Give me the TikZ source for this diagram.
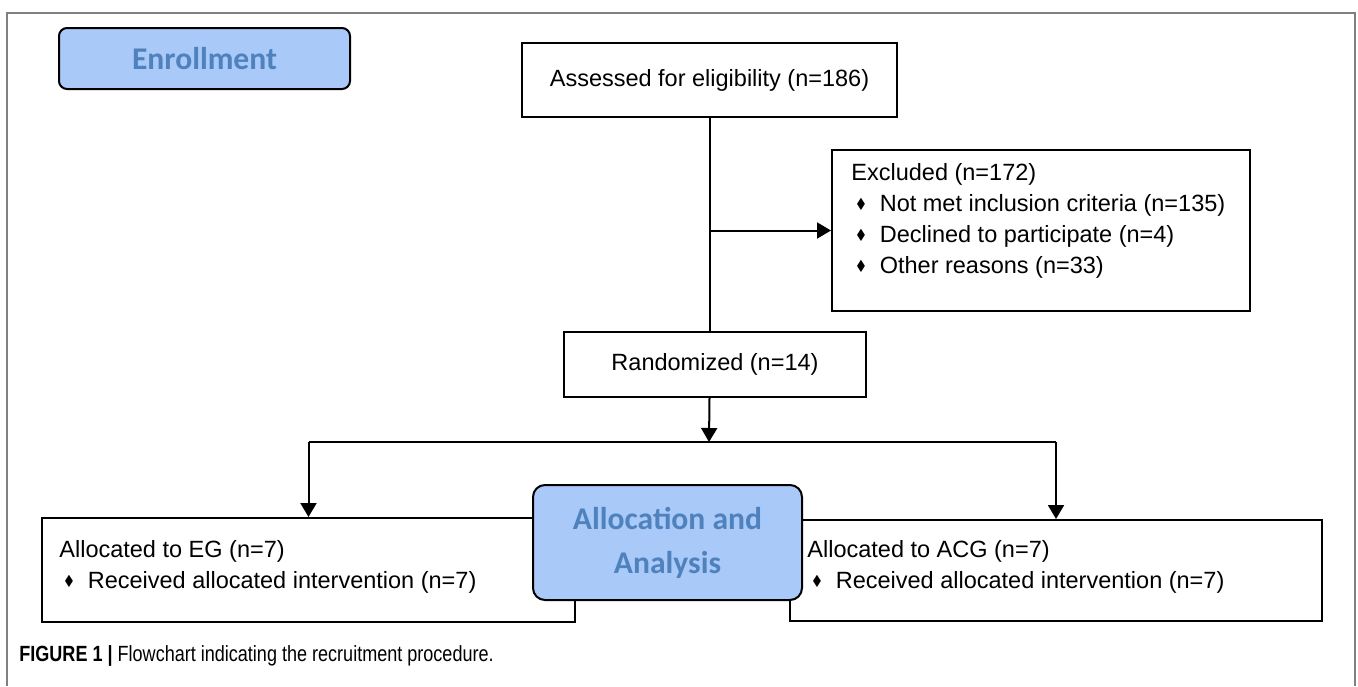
\documentclass[tikz,border=0pt]{standalone}
\usepackage{amssymb}
\usepackage{fontspec}
\setmainfont{Liberation Sans}
\newfontfamily\headfont{Carlito}
\newfontfamily\capfont{Liberation Sans}[FakeStretch=0.82]
\usetikzlibrary{positioning,arrows.meta}
\definecolor{headblue}{HTML}{4F81BD}
\definecolor{headfill}{HTML}{A9C9F9}
\newcommand{\bul}{\hspace*{2.5pt}\raisebox{.25ex}{\scalebox{.6}{$\blacklozenge$}}\hspace{7pt}}

\begin{document}
\begin{tikzpicture}[x=.5pt,y=-.5pt,
    box/.style={draw, line width=1pt, inner sep=0pt},
    head/.style={box, rounded corners=4pt, fill=headfill, text=headblue, align=center,
        font=\headfont\bfseries\fontsize{15.8}{22}\selectfont},
    txt/.style={inner sep=0pt, align=left, font=\fontsize{11.75}{15.5}\selectfont},
    link/.style={line width=1pt},
    arr/.style={link, -{Triangle[width=8pt,length=7pt]}}]
    \useasboundingbox (0,0) rectangle (1358,686);
    \draw[gray, line width=1pt] (7,686) -- (7,13) -- (1355,13) -- (1355,686);

    \node[head, minimum width=145.5pt, minimum height=30.5pt] (enroll) at (204.5,58.5) {Enrollment};
    \node[box, txt, minimum width=187.5pt, minimum height=37pt] (assess) at (709.5,80) {Assessed for eligibility (n=186)};
    \node[box, minimum width=209pt, minimum height=80.5pt] (excl) at (1041,230.5) {};
    \node[txt, anchor=north west] (excltext) at ([xshift=10pt,yshift=-7pt]excl.north west)
        {Excluded (n=172)\\ \bul Not met inclusion criteria (n=135)\\ \bul Declined to participate (n=4)\\ \bul Other reasons (n=33)};
    \node[box, txt, minimum width=151pt, minimum height=32.5pt] (rand) at (715,364.5) {Randomized (n=14)};
    \node[box, minimum width=266.5pt, minimum height=52pt] (eg) at (308.5,570) {};
    \node[txt, anchor=north west] (egtext) at ([xshift=9pt,yshift=-11.5pt]eg.north west)
        {Allocated to EG (n=7)\\ \bul Received allocated intervention (n=7)};
    \node[box, minimum width=266pt, minimum height=50.5pt] (acg) at (1056,570.5) {};
    \node[txt, anchor=north west] (acgtext) at ([xshift=9pt,yshift=-10.5pt]acg.north west)
        {Allocated to ACG (n=7)\\ \bul Received allocated intervention (n=7)};

    \coordinate (split) at (709,442);
    \draw[link] (assess.south) -- (assess.south |- rand.north);
    \draw[arr] (assess.south |- excl.west) -- (excl.west);
    \draw[arr] (rand.south -| assess.south) -- (split);
    \draw[link] (eg.north |- split) -- (acg.north |- split);
    \draw[arr] (eg.north |- split) -- (eg.north);
    \draw[arr] (acg.north |- split) -- (acg.north);

    \node[head, rounded corners=6pt, minimum width=134.5pt, minimum height=57.5pt] (alloc) at (667.5,542.5) {Allocation and\\ Analysis};

    \node[anchor=west, inner sep=0pt, font=\capfont\fontsize{11}{13}\selectfont] (caption) at (19,656)
        {\textbf{FIGURE 1 |} Flowchart indicating the recruitment procedure.};
\end{tikzpicture}
\end{document}
